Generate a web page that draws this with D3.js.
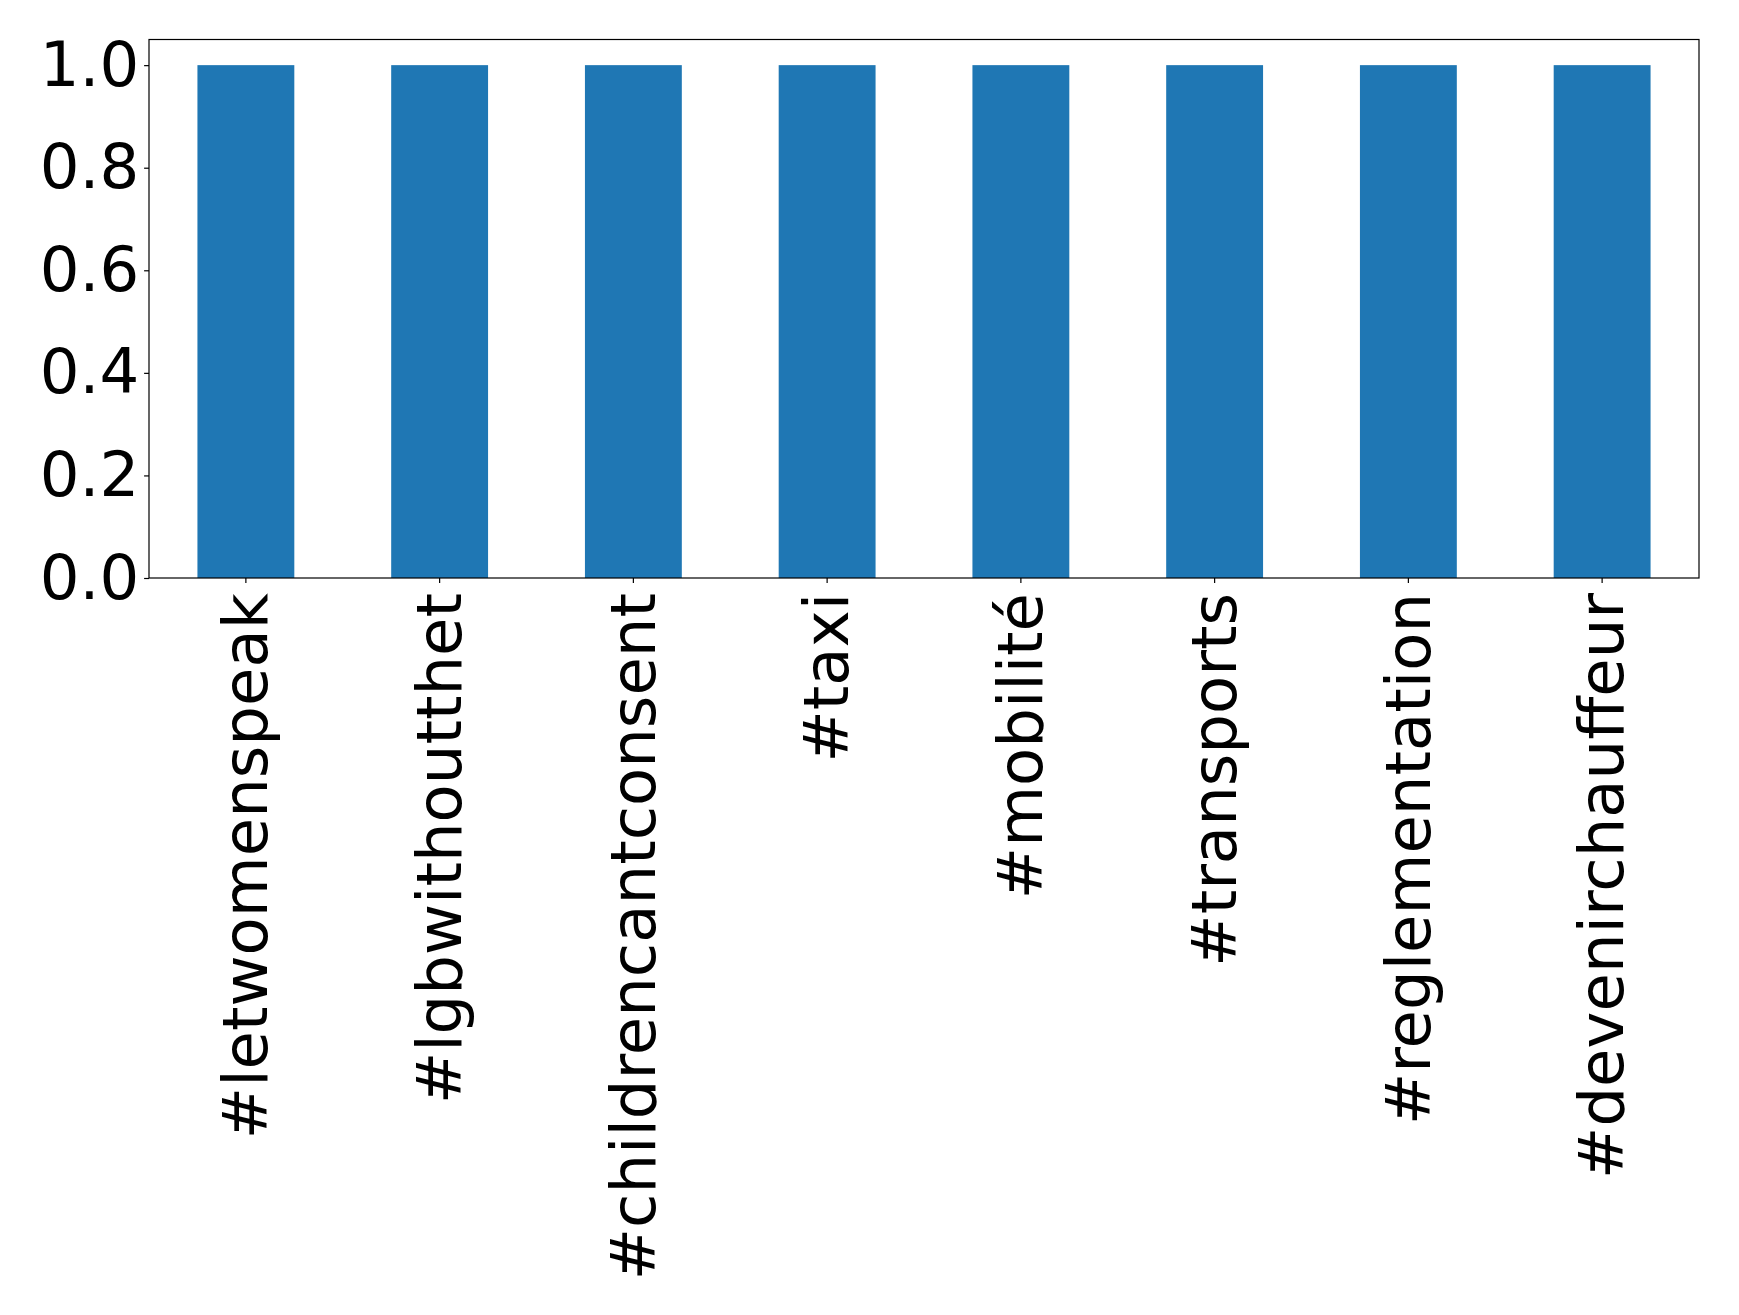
<!DOCTYPE html>
<html>
<head>
<meta charset="utf-8">
<script src="https://cdn.jsdelivr.net/npm/d3@7"></script>
<style>
  html, body { margin: 0; padding: 0; background: #fff; }
  svg { display: block; }
  text { font-family: "DejaVu Sans", sans-serif; fill: #000; }
</style>
</head>
<body>
<svg id="chart" width="1739" height="1315"></svg>
<script>
const categories = ["#letwomenspeak", "#lgbwithoutthet", "#childrencantconsent", "#taxi", "#mobilité", "#transports", "#reglementation", "#devenirchauffeur"];
const values = [1, 1, 1, 1, 1, 1, 1, 1];
const yTicks = [0.0, 0.2, 0.4, 0.6, 0.8, 1.0];

const W = 1739, H = 1315;
const m = { left: 149, right: 1699, top: 39.5, bottom: 578 };
const fontSize = 62.5;
const tickLen = 4.9, pad = 4.9;

const svg = d3.select("#chart");

const x = d3.scaleBand().domain(categories).range([m.left, m.right]).paddingInner(0.5).paddingOuter(0.25);
const y = d3.scaleLinear().domain([0, 1.05]).range([m.bottom, m.top]);

// bars
svg.append("g").selectAll("rect").data(categories).join("rect")
  .attr("x", d => x(d))
  .attr("width", x.bandwidth())
  .attr("y", (d, i) => y(values[i]))
  .attr("height", (d, i) => y(0) - y(values[i]))
  .attr("fill", "#1f77b4");

// frame
svg.append("rect")
  .attr("x", m.left).attr("y", m.top)
  .attr("width", m.right - m.left).attr("height", m.bottom - m.top)
  .attr("fill", "none").attr("stroke", "#000").attr("stroke-width", 1.2);

// y axis
const yAxis = d3.axisLeft(y).tickValues(yTicks).tickFormat(d3.format(".1f"))
  .tickSize(tickLen).tickPadding(pad);
const gy = svg.append("g").attr("transform", `translate(${m.left},0)`).call(yAxis);
gy.select(".domain").remove();
gy.selectAll(".tick line").attr("stroke", "#000").attr("stroke-width", 1.2);
gy.selectAll(".tick text").attr("font-size", fontSize).attr("font-family", "DejaVu Sans").attr("fill", "#000");

// x axis
const xAxis = d3.axisBottom(x).tickSize(tickLen).tickPadding(pad);
const gx = svg.append("g").attr("transform", `translate(0,${m.bottom})`).call(xAxis);
gx.select(".domain").remove();
gx.selectAll(".tick line").attr("stroke", "#000").attr("stroke-width", 1.2);
gx.selectAll(".tick text")
  .attr("font-size", fontSize).attr("font-family", "DejaVu Sans").attr("fill", "#000")
  .attr("text-anchor", "end")
  .attr("transform", "rotate(-90)")
  .attr("x", -15)
  .attr("y", 0)
  .attr("dy", "0.34em");
</script>
</body>
</html>
